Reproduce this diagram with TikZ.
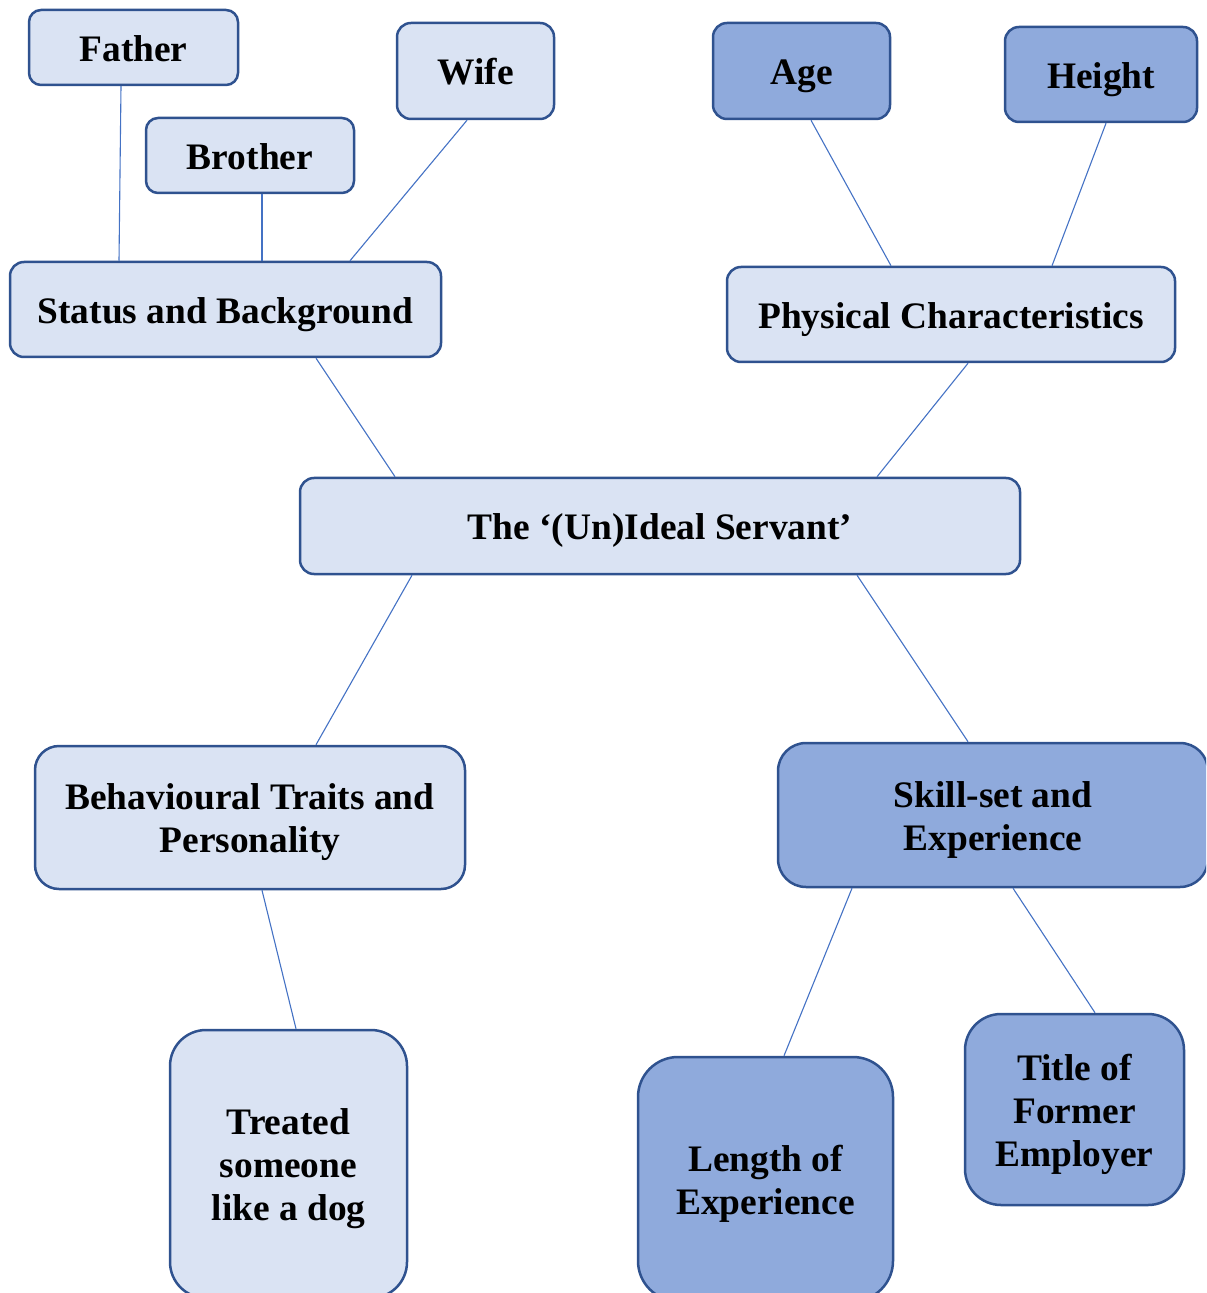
\documentclass[tikz,border=0pt]{standalone}
\usepackage{fontspec}
\setmainfont{Liberation Serif}
\usetikzlibrary{calc}
\definecolor{lightfill}{HTML}{DAE3F3}
\definecolor{darkfill}{HTML}{8FAADC}
\definecolor{boxline}{HTML}{2F528F}
\definecolor{conline}{HTML}{4472C4}
\tikzset{
  box/.style={draw=boxline, line width=1.25pt, inner sep=0pt,
    font=\fontsize{18.7}{21.5}\selectfont\bfseries, text=black},
  lbox/.style={box, fill=lightfill},
  dbox/.style={box, fill=darkfill},
  con/.style={draw=conline, line width=0.55pt},
}
\newcommand{\bx}[8]{% style, name, x1, y1, x2, y2, radius(px), text
  \node[#1, minimum width={(#5-#3)*0.5pt}, minimum height={(#6-#4)*0.5pt},
        rounded corners={#7*0.5pt}] (#2) at ({(#3+#5)/2},{(#4+#6)/2})
        {\raisebox{-2.5pt}[\height][\depth]{\begin{tabular}{@{}c@{}}#8\end{tabular}}};}
\begin{document}
\begin{tikzpicture}[x=0.5pt,y=-0.5pt]
\useasboundingbox (0,0) rectangle (1206,1293);
\clip (0,0) rectangle (1206,1293);
\bx{lbox}{father}{29}{10}{238}{85}{12}{Father}
\bx{lbox}{brother}{146}{118}{354}{193}{12}{Brother}
\bx{lbox}{wife}{397}{23}{554}{119}{14}{Wife}
\bx{lbox}{status}{10}{262}{441}{357}{14}{Status and Background}
\bx{dbox}{age}{713}{23}{890}{119}{14}{Age}
\bx{dbox}{height}{1005}{27}{1197}{122}{14}{Height}
\bx{lbox}{phys}{727}{267}{1175}{362}{14}{Physical Characteristics}
\bx{lbox}{central}{300}{478}{1020}{574}{14}{The ‘(Un)Ideal Servant’}
\bx{lbox}{behav}{35}{746}{465}{889}{24}{Behavioural Traits and\\Personality}
\bx{dbox}{skill}{778}{743}{1208}{887}{28}{Skill-set and\\Experience}
\bx{lbox}{treated}{170}{1030}{407}{1298}{36}{Treated\\someone\\like a dog}
\bx{dbox}{length}{638}{1057}{893}{1301}{40}{Length of\\Experience}
\bx{dbox}{title}{965}{1014}{1184}{1205}{36}{Title of\\Former\\Employer}
% connectors
\draw[con] ([xshift={(121-133.5)*0.5pt}]father.south) -- ([xshift={(119-225.5)*0.5pt}]status.north);
\draw[con] ([xshift={(262-250)*0.5pt}]brother.south) -- ([xshift={(262-225.5)*0.5pt}]status.north);
\draw[con] ([xshift={(467-475.5)*0.5pt}]wife.south) -- ([xshift={(350-225.5)*0.5pt}]status.north);
\draw[con] ([xshift={(316-225.5)*0.5pt}]status.south) -- ([xshift={(395-660)*0.5pt}]central.north);
\draw[con] ([xshift={(811-801.5)*0.5pt}]age.south) -- ([xshift={(891-951)*0.5pt}]phys.north);
\draw[con] ([xshift={(1106-1101)*0.5pt}]height.south) -- ([xshift={(1052-951)*0.5pt}]phys.north);
\draw[con] ([xshift={(968-951)*0.5pt}]phys.south) -- ([xshift={(877-660)*0.5pt}]central.north);
\draw[con] ([xshift={(412-660)*0.5pt}]central.south) -- ([xshift={(316-250)*0.5pt}]behav.north);
\draw[con] ([xshift={(857-660)*0.5pt}]central.south) -- ([xshift={(968-993)*0.5pt}]skill.north);
\draw[con] ([xshift={(262-250)*0.5pt}]behav.south) -- ([xshift={(296-288.5)*0.5pt}]treated.north);
\draw[con] ([xshift={(852-993)*0.5pt}]skill.south) -- ([xshift={(784-765.5)*0.5pt}]length.north);
\draw[con] ([xshift={(1013-993)*0.5pt}]skill.south) -- ([xshift={(1095-1074.5)*0.5pt}]title.north);
\end{tikzpicture}
\end{document}
